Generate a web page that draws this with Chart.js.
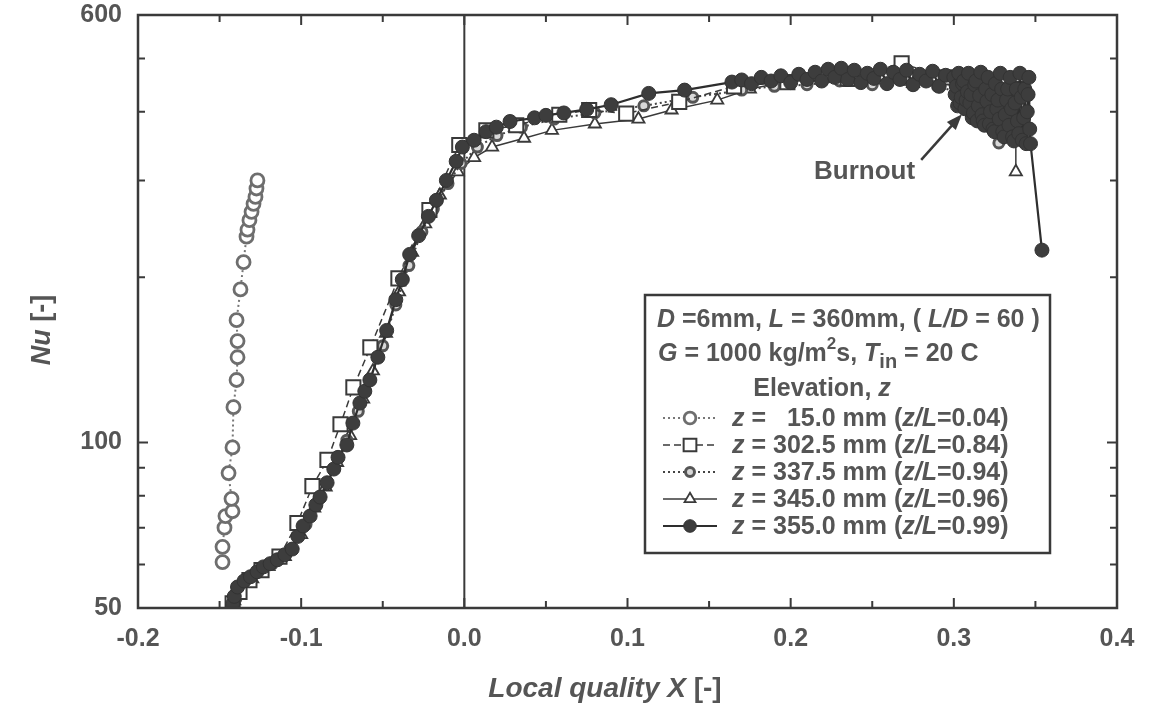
<!DOCTYPE html>
<html>
<head>
<meta charset="utf-8">
<title>Nu vs local quality</title>
<script src="https://cdn.jsdelivr.net/npm/chart.js@4.4.1/dist/chart.umd.min.js"></script>
<style>
    html, body { margin: 0; padding: 0; background: #fff; }
    #wrap { width: 1170px; height: 704px; position: relative; }
</style>
</head>
<body>
<div id="wrap"><canvas id="nuChart" width="1170" height="704"></canvas></div>
<script>
// Data: [local quality X, Nu]

// z = 15.0 mm
const z015 = [
    [-0.1482, 60.6], [-0.1482, 64.6], [-0.1470, 70], [-0.1464, 73.5], [-0.1421, 75],
    [-0.1427, 79], [-0.1445, 88], [-0.1421, 98], [-0.1415, 116], [-0.1396, 130],
    [-0.1390, 143], [-0.1390, 153], [-0.1396, 167], [-0.1372, 190], [-0.1353, 213],
    [-0.1335, 237], [-0.1329, 244], [-0.1317, 254], [-0.1304, 263], [-0.1292, 272],
    [-0.1280, 280], [-0.1274, 290], [-0.1268, 300]
];

// z = 302.5 mm
const z3025 = [
    [-0.1420, 51], [-0.1378, 53.5], [-0.1317, 56.2], [-0.1243, 58.6], [-0.1133, 62],
    [-0.1023, 71.4], [-0.0931, 83.3], [-0.0839, 93], [-0.0759, 108], [-0.0680, 126],
    [-0.0576, 149], [-0.0404, 199], [-0.0214, 265], [-0.0031, 348], [0.0135, 370],
    [0.0318, 378], [0.0582, 395], [0.0765, 403], [0.0992, 397], [0.1317, 417],
    [0.1653, 445], [0.1980, 453], [0.2350, 460], [0.2680, 490], [0.2950, 462],
    [0.3200, 450], [0.3400, 440]
];

// z = 337.5 mm
const z3375 = [
    [-0.1400, 52], [-0.1320, 56], [-0.1180, 60], [-0.1060, 64], [-0.0970, 71],
    [-0.0890, 79], [-0.0800, 90], [-0.0720, 101], [-0.0650, 114], [-0.0580, 130],
    [-0.0500, 150], [-0.0420, 178], [-0.0340, 210], [-0.0260, 242], [-0.0190, 266],
    [-0.0100, 296], [-0.0020, 322], [0.0080, 345], [0.0200, 362], [0.0350, 375],
    [0.0550, 388], [0.0800, 398], [0.1100, 410], [0.1400, 425], [0.1700, 438],
    [0.1900, 445], [0.2100, 448], [0.2300, 455], [0.2500, 448], [0.2700, 458],
    [0.2900, 445], [0.3050, 432], [0.3150, 392], [0.3220, 420], [0.3276, 412],
    [0.3276, 351]
];

// z = 345.0 mm
const z345 = [
    [-0.1410, 51.5], [-0.1380, 54], [-0.1300, 56.5], [-0.1200, 59.5], [-0.1100, 62],
    [-0.1000, 68], [-0.0920, 76], [-0.0850, 83], [-0.0780, 92], [-0.0700, 103],
    [-0.0620, 120], [-0.0560, 135], [-0.0480, 158], [-0.0400, 188], [-0.0320, 222],
    [-0.0240, 250], [-0.0150, 282], [-0.0040, 311], [0.0060, 330], [0.0170, 345],
    [0.0366, 358], [0.0537, 370], [0.0800, 380], [0.1067, 388], [0.1270, 403],
    [0.1550, 420], [0.1750, 440], [0.1950, 452], [0.2150, 462], [0.2350, 452],
    [0.2550, 462], [0.2750, 450], [0.2950, 458], [0.3050, 410], [0.3150, 440],
    [0.3220, 375], [0.3280, 420], [0.3330, 365], [0.3360, 430], [0.3380, 362],
    [0.3380, 311]
];

// z = 355.0 mm
const z355 = [
    [-0.1420, 50.8], [-0.1410, 52.5], [-0.1390, 54.6], [-0.1350, 56.0], [-0.1311, 57.0],
    [-0.1270, 58.2], [-0.1232, 59.4], [-0.1190, 60.2], [-0.1146, 61.2], [-0.1100, 62.5],
    [-0.1055, 64.0], [-0.1020, 67.5], [-0.0988, 70.5], [-0.0945, 73.5], [-0.0910, 77.0],
    [-0.0884, 79.6], [-0.0841, 84.5], [-0.0800, 89.5], [-0.0774, 94.0], [-0.0720, 99.0],
    [-0.0683, 108.5], [-0.0640, 118], [-0.0610, 124], [-0.0579, 130], [-0.0530, 143],
    [-0.0476, 160], [-0.0420, 182], [-0.0380, 198], [-0.0335, 220], [-0.0280, 238],
    [-0.0220, 258], [-0.0171, 276], [-0.0110, 300], [-0.0050, 325], [-0.0012, 345],
    [0.0060, 355], [0.0134, 368], [0.0196, 375], [0.0280, 384], [0.0430, 390],
    [0.0500, 394], [0.0610, 398], [0.0750, 404], [0.0900, 412], [0.1130, 432],
    [0.1350, 438], [0.1640, 453], [0.1700, 457], [0.1760, 450], [0.1820, 462],
    [0.1880, 455], [0.1940, 465], [0.2000, 452], [0.2050, 468], [0.2100, 458],
    [0.2150, 472], [0.2190, 455], [0.2230, 478], [0.2270, 462], [0.2310, 480],
    [0.2350, 458], [0.2390, 476], [0.2430, 452], [0.2470, 470], [0.2510, 460],
    [0.2550, 478], [0.2590, 450], [0.2630, 472], [0.2670, 458], [0.2710, 476],
    [0.2750, 448], [0.2790, 468], [0.2830, 455], [0.2870, 474], [0.2910, 445],
    [0.2950, 466], [0.3000, 462], [0.3008, 430], [0.3015, 445], [0.3023, 410],
    [0.3030, 470], [0.3038, 415], [0.3045, 425], [0.3053, 450], [0.3060, 455],
    [0.3068, 405], [0.3075, 420], [0.3083, 435], [0.3090, 470], [0.3098, 415],
    [0.3105, 430], [0.3113, 390], [0.3120, 398], [0.3128, 448], [0.3135, 455],
    [0.3143, 385], [0.3150, 410], [0.3158, 428], [0.3165, 472], [0.3173, 395],
    [0.3180, 385], [0.3188, 378], [0.3195, 440], [0.3203, 418], [0.3210, 462],
    [0.3218, 380], [0.3225, 400], [0.3233, 430], [0.3240, 372], [0.3248, 368],
    [0.3255, 450], [0.3263, 405], [0.3270, 420], [0.3278, 388], [0.3285, 470],
    [0.3293, 440], [0.3300, 368], [0.3308, 360], [0.3315, 395], [0.3323, 420],
    [0.3330, 440], [0.3338, 378], [0.3345, 462], [0.3353, 405], [0.3360, 360],
    [0.3368, 354], [0.3375, 415], [0.3383, 440], [0.3390, 385], [0.3398, 365],
    [0.3405, 470], [0.3413, 425], [0.3420, 355], [0.3428, 390], [0.3435, 440],
    [0.3443, 350], [0.3450, 400], [0.3455, 430], [0.3460, 462], [0.3465, 372],
    [0.3470, 350], [0.3540, 224]
];

const seriesLabels = ['15.0', '302.5', '337.5', '345.0', '355.0'];
const zOverL = ['0.04', '0.84', '0.94', '0.96', '0.99'];

const xTickValues = [-0.2, -0.15, -0.1, -0.05, 0, 0.05, 0.1, 0.15, 0.2, 0.25, 0.3, 0.35, 0.4];
const xLabelValues = [-0.2, -0.1, 0, 0.1, 0.2, 0.3, 0.4];
const yTickValues = [50, 60, 70, 80, 90, 100, 200, 300, 400, 500, 600];
const yLabelValues = [50, 100, 600];

const FAMILY = '"Liberation Sans", Arial, Helvetica, sans-serif';
const TEXT = '#555555';
const INK = '#3a3a3a';

function fontStr(size, italic) {
    return (italic ? 'italic ' : '') + 'bold ' + size + 'px ' + FAMILY;
}

function toPoints(arr) {
    return arr.map(p => ({ x: p[0], y: p[1] }));
}

// draws a run of text pieces, some italic / superscript / subscript
function drawRich(ctx, x, y, parts, size, measureOnly) {
    let cx = x;
    parts.forEach(p => {
        const s = p.sup ? Math.round(size * 0.68) : p.sub ? Math.round(size * 0.78) : size;
        const dy = p.sup ? -size * 0.5 : p.sub ? size * 0.28 : 0;
        ctx.font = fontStr(s, p.i);
        if (!measureOnly) ctx.fillText(p.t, cx, y + dy);
        cx += ctx.measureText(p.t).width;
    });
    return cx - x;
}

function drawMarker(ctx, ds, x, y, scale) {
    const r = ds.pointRadius * (scale || 1);
    ctx.beginPath();
    if (ds.pointStyle === 'rect') {
        const s = r * Math.SQRT1_2;
        ctx.rect(x - s, y - s, 2 * s, 2 * s);
    } else if (ds.pointStyle === 'triangle') {
        let a = 0;
        ctx.moveTo(x + Math.sin(a) * r, y - Math.cos(a) * r);
        a += 2 * Math.PI / 3;
        ctx.lineTo(x + Math.sin(a) * r, y - Math.cos(a) * r);
        a += 2 * Math.PI / 3;
        ctx.lineTo(x + Math.sin(a) * r, y - Math.cos(a) * r);
        ctx.closePath();
    } else {
        ctx.arc(x, y, r, 0, Math.PI * 2);
    }
    ctx.fillStyle = ds.pointBackgroundColor;
    ctx.fill();
    ctx.lineWidth = ds.pointBorderWidth;
    ctx.strokeStyle = ds.pointBorderColor;
    ctx.stroke();
}

const decorPlugin = {
    id: 'decor',
    beforeDatasetsDraw(chart) {
        const { ctx, chartArea: a, scales } = chart;
        // vertical line at X = 0
        const x0 = scales.x.getPixelForValue(0);
        ctx.save();
        ctx.strokeStyle = INK;
        ctx.lineWidth = 2;
        ctx.beginPath();
        ctx.moveTo(x0, a.top);
        ctx.lineTo(x0, a.bottom);
        ctx.stroke();
        ctx.restore();
    },
    afterDraw(chart) {
        const { ctx, chartArea: a, scales } = chart;
        const xs = scales.x, ys = scales.y;
        ctx.save();

        // frame
        ctx.strokeStyle = INK;
        ctx.lineWidth = 2.5;
        ctx.strokeRect(a.left, a.top, a.right - a.left, a.bottom - a.top);

        // inward ticks on all four sides
        ctx.lineWidth = 2;
        ctx.beginPath();
        xTickValues.forEach(v => {
            const px = xs.getPixelForValue(v);
            const len = xLabelValues.some(l => Math.abs(l - v) < 1e-9) ? 10 : 7;
            ctx.moveTo(px, a.bottom); ctx.lineTo(px, a.bottom - len);
            ctx.moveTo(px, a.top); ctx.lineTo(px, a.top + len);
        });
        yTickValues.forEach(v => {
            const py = ys.getPixelForValue(v);
            const len = yLabelValues.includes(v) ? 10 : 7;
            ctx.moveTo(a.left, py); ctx.lineTo(a.left + len, py);
            ctx.moveTo(a.right, py); ctx.lineTo(a.right - len, py);
        });
        ctx.stroke();

        ctx.fillStyle = TEXT;
        ctx.textBaseline = 'alphabetic';

        // axis titles
        const xt = [{ t: 'Local quality X', i: true }, { t: ' [-]' }];
        const xw = drawRich(ctx, 0, 0, xt, 28, true);
        drawRich(ctx, 605 - xw / 2, 697, xt, 28);

        const yt = [{ t: 'Nu', i: true }, { t: ' [-]' }];
        const yw = drawRich(ctx, 0, 0, yt, 27, true);
        ctx.save();
        ctx.translate(50, 330);
        ctx.rotate(-Math.PI / 2);
        drawRich(ctx, -yw / 2, 0, yt, 27);
        ctx.restore();

        // burnout annotation
        ctx.font = fontStr(26, false);
        ctx.fillText('Burnout', xs.getPixelForValue(0.2143), ys.getPixelForValue(302));
        const tx = xs.getPixelForValue(0.305), ty = ys.getPixelForValue(396);
        const sx = xs.getPixelForValue(0.280), sy = ys.getPixelForValue(327);
        const ang = Math.atan2(ty - sy, tx - sx);
        ctx.strokeStyle = INK;
        ctx.lineWidth = 2.5;
        ctx.beginPath();
        ctx.moveTo(sx, sy);
        ctx.lineTo(tx - 10 * Math.cos(ang), ty - 10 * Math.sin(ang));
        ctx.stroke();
        ctx.fillStyle = INK;
        ctx.beginPath();
        ctx.moveTo(tx, ty);
        ctx.lineTo(tx - 16 * Math.cos(ang) + 6 * Math.sin(ang), ty - 16 * Math.sin(ang) - 6 * Math.cos(ang));
        ctx.lineTo(tx - 16 * Math.cos(ang) - 6 * Math.sin(ang), ty - 16 * Math.sin(ang) + 6 * Math.cos(ang));
        ctx.closePath();
        ctx.fill();

        // legend box
        const bx = 645, by = 295, bw = 405, bh = 258;
        ctx.fillStyle = '#ffffff';
        ctx.fillRect(bx, by, bw, bh);
        ctx.strokeStyle = INK;
        ctx.lineWidth = 2.5;
        ctx.strokeRect(bx, by, bw, bh);

        ctx.fillStyle = TEXT;
        const fs = 25;
        drawRich(ctx, 657, 327, [
            { t: 'D', i: true }, { t: ' =6mm, ' }, { t: 'L', i: true }, { t: ' = 360mm, ( ' },
            { t: 'L/D', i: true }, { t: ' = 60 )' }
        ], fs);
        drawRich(ctx, 658, 361, [
            { t: 'G', i: true }, { t: ' = 1000 kg/m' }, { t: '2', sup: true }, { t: 's, ' },
            { t: 'T', i: true }, { t: 'in', sub: true }, { t: ' = 20 C' }
        ], fs);
        const el = [{ t: 'Elevation, ' }, { t: 'z', i: true }];
        const ew = drawRich(ctx, 0, 0, el, fs, true);
        drawRich(ctx, 822 - ew / 2, 396, el, fs);

        chart.data.datasets.forEach((ds, i) => {
            const y = 426 + i * 27;
            const cy = y - 8;
            ctx.save();
            ctx.strokeStyle = ds.borderColor;
            ctx.lineWidth = ds.borderWidth;
            ctx.setLineDash(ds.borderDash || []);
            ctx.beginPath();
            ctx.moveTo(663, cy);
            ctx.lineTo(717, cy);
            ctx.stroke();
            ctx.setLineDash([]);
            drawMarker(ctx, ds, 690, cy, 0.9);
            ctx.restore();
            ctx.fillStyle = TEXT;
            const pad = seriesLabels[i].length < 5 ? '   ' : ' ';
            drawRich(ctx, 732, y, [
                { t: 'z', i: true }, { t: ' =' + pad + seriesLabels[i] + ' mm (' },
                { t: 'z/L', i: true }, { t: '=' + zOverL[i] + ')' }
            ], fs);
        });

        ctx.restore();
    }
};

const config = {
    type: 'line',
    data: {
        datasets: [
            {
                label: 'z = 15.0 mm',
                data: toPoints(z015),
                borderColor: '#777777',
                borderWidth: 2,
                borderDash: [2, 3],
                pointStyle: 'circle',
                pointRadius: 6.5,
                pointBorderWidth: 2.8,
                pointBorderColor: '#6e6e6e',
                pointBackgroundColor: '#ffffff',
                order: 0
            },
            {
                label: 'z = 302.5 mm',
                data: toPoints(z3025),
                borderColor: '#3a3a3a',
                borderWidth: 1.5,
                borderDash: [7, 4],
                pointStyle: 'rect',
                pointRadius: 10,
                pointBorderWidth: 2,
                pointBorderColor: '#3a3a3a',
                pointBackgroundColor: '#ffffff',
                order: 2
            },
            {
                label: 'z = 337.5 mm',
                data: toPoints(z3375),
                borderColor: '#444444',
                borderWidth: 2,
                borderDash: [2, 3],
                pointStyle: 'circle',
                pointRadius: 5,
                pointBorderWidth: 3,
                pointBorderColor: '#555555',
                pointBackgroundColor: '#d8d8d8',
                order: 3
            },
            {
                label: 'z = 345.0 mm',
                data: toPoints(z345),
                borderColor: '#3a3a3a',
                borderWidth: 1.5,
                pointStyle: 'triangle',
                pointRadius: 7,
                pointBorderWidth: 1.8,
                pointBorderColor: '#3a3a3a',
                pointBackgroundColor: '#ffffff',
                order: 4
            },
            {
                label: 'z = 355.0 mm',
                data: toPoints(z355),
                borderColor: '#2e2e2e',
                borderWidth: 2.2,
                pointStyle: 'circle',
                pointRadius: 7,
                pointBorderWidth: 1,
                pointBorderColor: '#333333',
                pointBackgroundColor: '#3d3d3d',
                order: 1
            }
        ]
    },
    options: {
        responsive: false,
        animation: false,
        devicePixelRatio: 1,
        layout: {
            padding: { top: 0, right: 53, bottom: 0, left: 0 }
        },
        elements: {
            line: { tension: 0, fill: false }
        },
        plugins: {
            legend: { display: false },
            tooltip: { enabled: false }
        },
        scales: {
            x: {
                type: 'linear',
                min: -0.2,
                max: 0.4,
                afterBuildTicks: scale => {
                    scale.ticks = xTickValues.map(v => ({ value: v }));
                },
                afterFit: scale => { scale.height = 96; },
                grid: { display: false, drawTicks: false },
                border: { display: false },
                ticks: {
                    autoSkip: false,
                    maxRotation: 0,
                    padding: 16,
                    color: TEXT,
                    font: { family: FAMILY, size: 25, weight: 'bold' },
                    callback: value => xLabelValues.some(l => Math.abs(l - value) < 1e-9) ? value.toFixed(1) : ''
                }
            },
            y: {
                type: 'logarithmic',
                min: 50,
                max: 600,
                afterBuildTicks: scale => {
                    scale.ticks = yTickValues.map(v => ({ value: v }));
                },
                afterFit: scale => {
                    scale.width = 138;
                    scale.paddingTop = 15;
                    scale.paddingBottom = 15;
                },
                grid: { display: false, drawTicks: false },
                border: { display: false },
                ticks: {
                    autoSkip: false,
                    padding: 16,
                    color: TEXT,
                    font: { family: FAMILY, size: 25, weight: 'bold' },
                    callback: value => yLabelValues.includes(value) ? String(value) : ''
                }
            }
        }
    },
    plugins: [decorPlugin]
};

const chart = new Chart(document.getElementById('nuChart').getContext('2d'), config);
</script>
</body>
</html>
